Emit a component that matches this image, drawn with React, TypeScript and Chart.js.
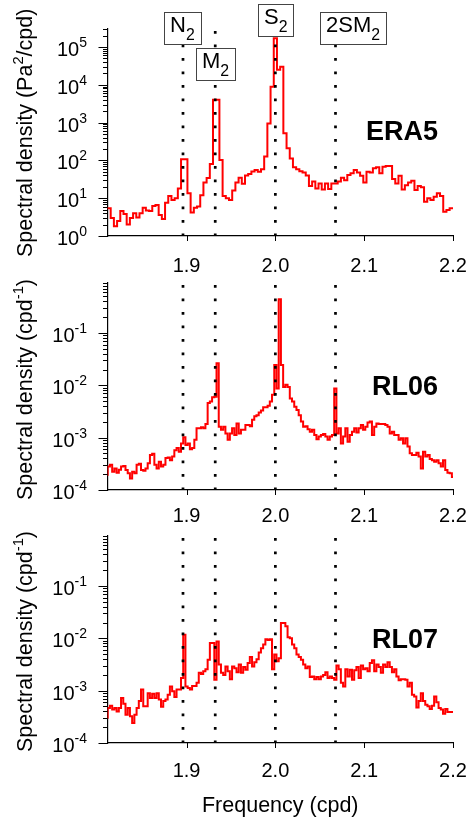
import React, { useEffect, useRef } from "react";
import { Chart, registerables } from "chart.js";

Chart.register(...registerables);

const FONT = "'Liberation Sans', Arial, Helvetica, sans-serif";

// ---------- data ----------
// ERA5 spectrum: bins start at 1.8092 cpd, spacing 0.0036 cpd
const ERA5_F0 = 1.8092;
const ERA5_DF = 0.0036;
const ERA5_VALUES = [
  5.4, 5.4, 3.0, 1.8, 2.5, 4.6, 3.8, 2.0, 3.0, 4.0,
  3.1, 4.0, 5.6, 4.7, 4.6, 6.2, 6.6, 3.6, 2.8, 7.6,
  11.5, 8.9, 10, 18, 107, 107, 13.5, 4.2, 5.6, 6.0,
  12, 26, 34, 80, 4000, 4000, 102, 11.5, 10, 8.9,
  16, 26, 35, 24, 40, 44, 51, 56, 50, 58,
  126, 955, 8900, 170000, 25000, 30000, 525, 209, 112, 66,
  58, 52, 48, 40, 21, 27.5, 18, 24.5, 17, 24.5,
  17.4, 24.5, 24.5, 27.5, 35, 30, 41, 46, 56, 48,
  39, 26, 50, 48, 62, 66, 46, 68, 71, 71,
  32, 24.5, 39, 17, 22, 26, 29, 16.6, 21, 19.5,
  8.1, 10, 8.9, 11, 13.5, 11.5, 4.4, 4.9, 5.4, 5.4,
];

// GRACE spectra: bins start at 1.81 cpd, spacing 0.0025 cpd
const GRACE_F0 = 1.81;
const GRACE_DF = 0.0025;
const RL06_VALUES = [
  1.95e-4, 2.82e-4, 3.02e-4, 2.24e-4, 2.57e-4, 2.14e-4, 2.45e-4, 2.82e-4, 2.88e-4, 2.40e-4,
  2.09e-4, 1.66e-4, 2.24e-4, 2.09e-4, 3.02e-4, 3.16e-4, 2.40e-4, 2.34e-4, 2.57e-4, 3.24e-4,
  4.68e-4, 4.90e-4, 3.02e-4, 2.57e-4, 3.47e-4, 2.82e-4, 3.02e-4, 4.07e-4, 4.17e-4, 3.72e-4,
  4.37e-4, 5.75e-4, 6.31e-4, 5.37e-4, 7.76e-4, 1.02e-3, 7.24e-4, 7.76e-4, 6.03e-4, 6.31e-4,
  9.12e-4, 1.51e-3, 1.51e-3, 1.58e-3, 1.51e-3, 1.82e-3, 4.57e-3, 4.90e-3, 5.89e-3, 6.03e-3,
  2.63e-2, 1.62e-3, 1.41e-3, 1.62e-3, 1.20e-3, 9.12e-4, 1.20e-3, 1.51e-3, 1.12e-3, 1.86e-3,
  1.20e-3, 1.41e-3, 1.41e-3, 1.74e-3, 1.74e-3, 1.66e-3, 2.19e-3, 2.57e-3, 2.69e-3, 3.02e-3,
  3.31e-3, 3.80e-3, 3.80e-3, 4.07e-3, 4.90e-3, 6.61e-3, 2.45e-2, 8.71e-3, 0.44, 2.45e-2,
  9.33e-3, 1.02e-2, 9.33e-3, 5.62e-3, 4.90e-3, 3.89e-3, 3.39e-3, 2.69e-3, 2.04e-3, 1.62e-3,
  1.66e-3, 1.45e-3, 1.29e-3, 1.41e-3, 1.12e-3, 9.33e-4, 1.05e-3, 1.12e-3, 1.17e-3, 1.05e-3,
  9.12e-4, 1.05e-3, 1.12e-3, 8.71e-3, 1.20e-3, 1.51e-3, 7.76e-4, 1.05e-3, 1.51e-3, 8.32e-4,
  1.12e-3, 1.29e-3, 1.51e-3, 1.26e-3, 1.51e-3, 1.74e-3, 1.41e-3, 1.62e-3, 1.95e-3, 2.04e-3,
  1.12e-3, 1.62e-3, 1.86e-3, 1.82e-3, 1.82e-3, 1.82e-3, 1.74e-3, 1.62e-3, 1.20e-3, 1.29e-3,
  1.12e-3, 1.12e-3, 9.12e-4, 9.77e-4, 7.76e-4, 9.77e-4, 6.76e-4, 5.01e-4, 4.68e-4, 4.68e-4,
  5.13e-4, 4.37e-4, 2.57e-4, 5.37e-4, 4.37e-4, 4.68e-4, 3.89e-4, 3.72e-4, 3.47e-4, 3.72e-4,
  3.24e-4, 2.82e-4, 3.72e-4, 2.40e-4, 2.14e-4, 2.09e-4, 1.78e-4,
];
const RL07_VALUES = [
  3.02e-4, 4.68e-4, 5.13e-4, 4.37e-4, 4.68e-4, 3.98e-4, 4.68e-4, 7.24e-4, 5.62e-4, 3.47e-4,
  4.68e-4, 3.24e-4, 2.40e-4, 3.47e-4, 4.68e-4, 6.31e-4, 1.05e-3, 5.01e-4, 5.01e-4, 8.91e-4,
  7.24e-4, 8.71e-4, 7.24e-4, 8.91e-4, 6.76e-4, 4.90e-4, 6.31e-4, 6.76e-4, 8.32e-4, 1.20e-3,
  9.77e-4, 7.59e-4, 1.05e-3, 1.05e-3, 1.74e-3, 1.17e-2, 1.20e-3, 1.12e-3, 1.05e-3, 1.23e-3,
  1.23e-3, 1.41e-3, 2.19e-3, 2.09e-3, 2.34e-3, 2.57e-3, 3.89e-3, 8.13e-3, 8.13e-3, 1.62e-3,
  8.71e-3, 3.16e-3, 2.19e-3, 2.00e-3, 2.88e-3, 2.34e-3, 1.66e-3, 2.88e-3, 2.69e-3, 2.24e-3,
  3.16e-3, 2.19e-3, 2.82e-3, 2.51e-3, 3.39e-3, 4.37e-3, 2.88e-3, 3.47e-3, 3.98e-3, 5.37e-3,
  6.46e-3, 7.59e-3, 9.55e-3, 9.33e-3, 9.55e-3, 2.57e-3, 4.90e-3, 3.63e-3, 4.17e-3, 1.95e-2,
  1.95e-2, 1.70e-2, 1.05e-2, 1.00e-2, 7.59e-3, 6.46e-3, 4.90e-3, 4.37e-3, 3.89e-3, 3.16e-3,
  2.69e-3, 2.88e-3, 1.82e-3, 1.86e-3, 1.66e-3, 1.82e-3, 1.66e-3, 1.86e-3, 2.00e-3, 2.24e-3,
  1.74e-3, 1.86e-3, 1.74e-3, 1.62e-3, 3.02e-3, 2.57e-3, 1.41e-3, 1.20e-3, 2.57e-3, 1.86e-3,
  2.51e-3, 1.62e-3, 2.45e-3, 2.82e-3, 1.74e-3, 3.02e-3, 2.57e-3, 2.69e-3, 2.34e-3, 3.39e-3,
  3.80e-3, 2.34e-3, 3.16e-3, 2.82e-3, 2.19e-3, 3.16e-3, 2.82e-3, 3.47e-3, 2.82e-3, 2.24e-3,
  2.57e-3, 1.86e-3, 1.58e-3, 1.66e-3, 1.66e-3, 1.62e-3, 1.20e-3, 1.41e-3, 8.32e-4, 7.76e-4,
  4.79e-4, 6.31e-4, 8.91e-4, 6.31e-4, 5.37e-4, 5.01e-4, 4.47e-4, 5.13e-4, 7.76e-4, 6.03e-4,
  4.68e-4, 4.37e-4, 3.63e-4, 4.47e-4, 3.89e-4, 3.89e-4, 3.89e-4,
];

const X_MIN = 1.811;
const X_MAX = 2.2;
const X_TICKS = [1.9, 2.0, 2.1, 2.2];
const ERA5_Y_TICKS = [1, 10, 100, 1000, 10000, 100000];
const GRACE_Y_TICKS = [1e-4, 1e-3, 1e-2, 1e-1];
const ERA5_Y_RANGE = [1, 3e5];
const GRACE_Y_RANGE = [1e-4, 0.9];

const TIDE_NAMES = ["N₂", "M₂", "S₂", "2SM₂"];
const TIDE_FREQS = [1.896, 1.9323, 2.0, 2.0677];

const PANEL_NAMES = ["ERA5", "RL06", "RL07"];
const Y_TITLES = [
  "Spectral density (Pa²/cpd)",
  "Spectral density (cpd⁻¹)",
  "Spectral density (cpd⁻¹)",
];
const X_TITLE = "Frequency (cpd)";

// ---------- layout / style ----------
const BOX_TOPS = [12, 48, 4, 12];
const BOX_ANCHORS = ["center", "center", "center", "left"];

const PANELS = [
  { top: 0, height: 290, padTop: 29, xAxisH: 54, xLabelPad: 13, titleStart: 257, nameY: 133,
    f0: ERA5_F0, df: ERA5_DF, values: ERA5_VALUES, yTicks: ERA5_Y_TICKS, yRange: ERA5_Y_RANGE, boxes: true, xTitle: false },
  { top: 270, height: 265, padTop: 13, xAxisH: 45, xLabelPad: 9, titleStart: 230, nameY: 118,
    f0: GRACE_F0, df: GRACE_DF, values: RL06_VALUES, yTicks: GRACE_Y_TICKS, yRange: GRACE_Y_RANGE, boxes: false, xTitle: false },
  { top: 523, height: 300, padTop: 13, xAxisH: 80, xLabelPad: 11, titleStart: 229, nameY: 118,
    f0: GRACE_F0, df: GRACE_DF, values: RL07_VALUES, yTicks: GRACE_Y_TICKS, yRange: GRACE_Y_RANGE, boxes: false, xTitle: true },
];
const Y_LABEL_RIGHT = 87;
const PLOT_LEFT = 107.5;
const PLOT_RIGHT_PAD = 17;

const SUP: Record<string, string> = {
  "-": "⁻", "0": "⁰", "1": "¹", "2": "²", "3": "³", "4": "⁴",
  "5": "⁵", "6": "⁶", "7": "⁷", "8": "⁸", "9": "⁹",
};
const powLabel = (v: number) => {
  const e = Math.round(Math.log10(v));
  return "10" + String(e).split("").map((c) => SUP[c]).join("");
};

// rich text: superscript / subscript characters drawn as smaller raised / lowered digits
const SUP_CHARS: Record<string, string> = {
  "⁻": "-", "⁰": "0", "¹": "1", "²": "2", "³": "3", "⁴": "4",
  "⁵": "5", "⁶": "6", "⁷": "7", "⁸": "8", "⁹": "9",
};
const SUB_CHARS: Record<string, string> = { "₂": "2" };

function splitRuns(text: string) {
  const runs: { t: string; k: "n" | "sup" | "sub" }[] = [];
  for (const ch of text) {
    let k: "n" | "sup" | "sub" = "n";
    let c = ch;
    if (SUP_CHARS[ch] !== undefined) { k = "sup"; c = SUP_CHARS[ch]; }
    else if (SUB_CHARS[ch] !== undefined) { k = "sub"; c = SUB_CHARS[ch]; }
    const last = runs[runs.length - 1];
    if (last && last.k === k) last.t += c;
    else runs.push({ t: c, k });
  }
  return runs;
}

function drawRich(ctx: CanvasRenderingContext2D, text: string, x: number, y: number, size: number,
  align: "left" | "right" | "center", opts: { supScale: number; supRise: number; subScale: number; subDrop: number; weight?: string }) {
  const runs = splitRuns(text);
  const fontFor = (k: string) => {
    const s = k === "sup" ? size * opts.supScale : k === "sub" ? size * opts.subScale : size;
    return `${opts.weight || ""} ${s}px ${FONT}`;
  };
  let total = 0;
  const widths = runs.map((r) => {
    ctx.font = fontFor(r.k);
    const w = ctx.measureText(r.t).width;
    total += w;
    return w;
  });
  let cx = align === "left" ? x : align === "right" ? x - total : x - total / 2;
  ctx.textAlign = "left";
  ctx.textBaseline = "alphabetic";
  runs.forEach((r, i) => {
    ctx.font = fontFor(r.k);
    const dy = r.k === "sup" ? -opts.supRise : r.k === "sub" ? opts.subDrop : 0;
    ctx.fillText(r.t, cx, y + dy);
    cx += widths[i];
  });
  return total;
}

function makeOverlay(idx: number) {
  const p = PANELS[idx];
  return {
    id: "overlay" + idx,
    afterDatasetsDraw(chart: any) {
      const { ctx, chartArea: a, scales } = chart;
      const xs = scales.x;
      ctx.save();
      ctx.strokeStyle = "#000";
      ctx.lineWidth = 2.7;
      ctx.setLineDash([2.7, 10.8]);
      TIDE_FREQS.forEach((f) => {
        const x = xs.getPixelForValue(f);
        ctx.beginPath();
        ctx.moveTo(x, a.top + 2);
        ctx.lineTo(x, a.bottom);
        ctx.stroke();
      });
      ctx.restore();
    },
    afterDraw(chart: any) {
      const { ctx, chartArea: a, scales } = chart;
      const xs = scales.x;
      const ys = scales.y;
      ctx.save();
      // y ticks (major + minor)
      ctx.strokeStyle = "#000";
      ctx.lineWidth = 1;
      const [ymin, ymax] = p.yRange;
      const n0 = Math.floor(Math.log10(ymin));
      const n1 = Math.ceil(Math.log10(ymax));
      for (let n = n0; n <= n1; n++) {
        for (let m = 1; m <= 9; m++) {
          const v = m * Math.pow(10, n);
          if (v < ymin * 0.999 || v > ymax * 1.001) continue;
          const y = Math.round(ys.getPixelForValue(v)) + 0.5;
          const len = m === 1 ? 9 : 4.5;
          ctx.beginPath();
          ctx.moveTo(a.left - len, y);
          ctx.lineTo(a.left, y);
          ctx.stroke();
        }
      }
      // x ticks
      X_TICKS.forEach((v) => {
        const x = Math.round(xs.getPixelForValue(v)) + 0.5;
        ctx.beginPath();
        ctx.moveTo(x, a.bottom);
        ctx.lineTo(x, a.bottom + 5);
        ctx.stroke();
      });
      ctx.fillStyle = "#000";
      // y tick labels (10 with raised exponent)
      p.yTicks.forEach((v) => {
        const y = ys.getPixelForValue(v);
        drawRich(ctx, powLabel(v), Y_LABEL_RIGHT, y + 9, 20, "right",
          { supScale: 0.7, supRise: 9, subScale: 0.7, subDrop: 6 });
      });
      // y title
      ctx.translate(24, p.titleStart);
      ctx.rotate(-Math.PI / 2);
      drawRich(ctx, Y_TITLES[idx], 0, 7.5, 21.5, "left",
        { supScale: 0.68, supRise: 8.5, subScale: 0.7, subDrop: 6 });
      ctx.setTransform(1, 0, 0, 1, 0, 0);
      // panel name
      ctx.font = `bold 27px ${FONT}`;
      ctx.textAlign = "right";
      ctx.textBaseline = "middle";
      ctx.fillText(PANEL_NAMES[idx], 438, p.nameY);
      // tide boxes
      if (p.boxes) {
        const richOpts = { supScale: 0.7, supRise: 8, subScale: 0.72, subDrop: 7.5 };
        TIDE_NAMES.forEach((name, i) => {
          const lx = xs.getPixelForValue(TIDE_FREQS[i]);
          const runs = splitRuns(name);
          let tw = 0;
          runs.forEach((r) => {
            ctx.font = `${r.k === "n" ? 22 : 22 * richOpts.subScale}px ${FONT}`;
            tw += ctx.measureText(r.t).width;
          });
          const w = Math.round(tw + 12);
          const h = 32;
          const left = Math.round(BOX_ANCHORS[i] === "center" ? lx - w / 2 : lx - 15);
          const top = BOX_TOPS[i];
          ctx.fillStyle = "#fff";
          ctx.fillRect(left, top, w, h);
          ctx.strokeStyle = "#444";
          ctx.lineWidth = 1;
          ctx.strokeRect(left + 0.5, top + 0.5, w, h);
          ctx.fillStyle = "#000";
          drawRich(ctx, name, left + 6, top + 20, 22, "left", richOpts);
        });
      }
      ctx.restore();
    },
  };
}

function Panel({ idx }: { idx: number }) {
  const ref = useRef<HTMLCanvasElement | null>(null);
  const p = PANELS[idx];
  useEffect(() => {
    const points = p.values.map((y, i) => ({ x: p.f0 + i * p.df, y }));
    const chart = new Chart(ref.current as HTMLCanvasElement, {
      type: "line",
      data: {
        datasets: [
          {
            data: points,
            borderColor: "#ff0000",
            borderWidth: 2,
            pointRadius: 0,
            stepped: "middle",
            fill: false,
          },
        ],
      },
      options: {
        animation: false,
        responsive: false,
        devicePixelRatio: 1,
        parsing: false,
        layout: { autoPadding: false, padding: { top: p.padTop, right: PLOT_RIGHT_PAD, bottom: 0, left: 0 } },
        plugins: { legend: { display: false }, tooltip: { enabled: false } },
        scales: {
          x: {
            type: "linear",
            position: "bottom",
            min: X_MIN,
            max: X_MAX,
            afterBuildTicks: (s: any) => {
              s.ticks = X_TICKS.map((v) => ({ value: v }));
            },
            afterFit: (s: any) => {
              s.height = p.xAxisH;
              s.paddingLeft = 0;
              s.paddingRight = 0;
              s.paddingTop = 0;
              s.paddingBottom = 0;
            },
            border: { display: true, color: "#000", width: 1.2 },
            grid: { display: true, drawOnChartArea: false, drawTicks: true, tickLength: 5, color: "rgba(0,0,0,0)" },
            ticks: {
              color: "#000",
              font: { family: FONT, size: 20 },
              padding: p.xLabelPad,
              maxRotation: 0,
              autoSkip: false,
              callback: (v: any) => Number(v).toFixed(1),
            },
            title: {
              display: p.xTitle,
              text: X_TITLE,
              color: "#000",
              font: { family: FONT, size: 21.5 },
              padding: { top: 4, bottom: 4 },
            },
          },
          y: {
            type: "logarithmic",
            position: "left",
            min: p.yRange[0],
            max: p.yRange[1],
            afterBuildTicks: (s: any) => {
              s.ticks = p.yTicks.map((v) => ({ value: v }));
            },
            afterFit: (s: any) => {
              s.width = PLOT_LEFT;
              s.paddingLeft = 0;
              s.paddingRight = 0;
              s.paddingTop = 0;
              s.paddingBottom = 0;
            },
            border: { display: true, color: "#000", width: 1.2 },
            grid: { display: true, drawOnChartArea: false, drawTicks: true, tickLength: 9, color: "rgba(0,0,0,0)" },
            ticks: {
              // labels are drawn by the overlay plugin with true superscripts
              display: false,
              callback: (v: any) => powLabel(Number(v)),
            },
          },
        },
      },
      plugins: [makeOverlay(idx)],
    } as any);
    return () => chart.destroy();
  }, []);
  return (
    <canvas
      ref={ref}
      width={470}
      height={p.height}
      style={{ position: "absolute", left: 0, top: p.top, width: 470, height: p.height }}
    />
  );
}

export default function App() {
  return (
    <div style={{ position: "absolute", left: 0, top: 0, width: 470, height: 823, background: "#fff" }}>
      {PANELS.map((_, i) => (
        <Panel key={i} idx={i} />
      ))}
    </div>
  );
}
